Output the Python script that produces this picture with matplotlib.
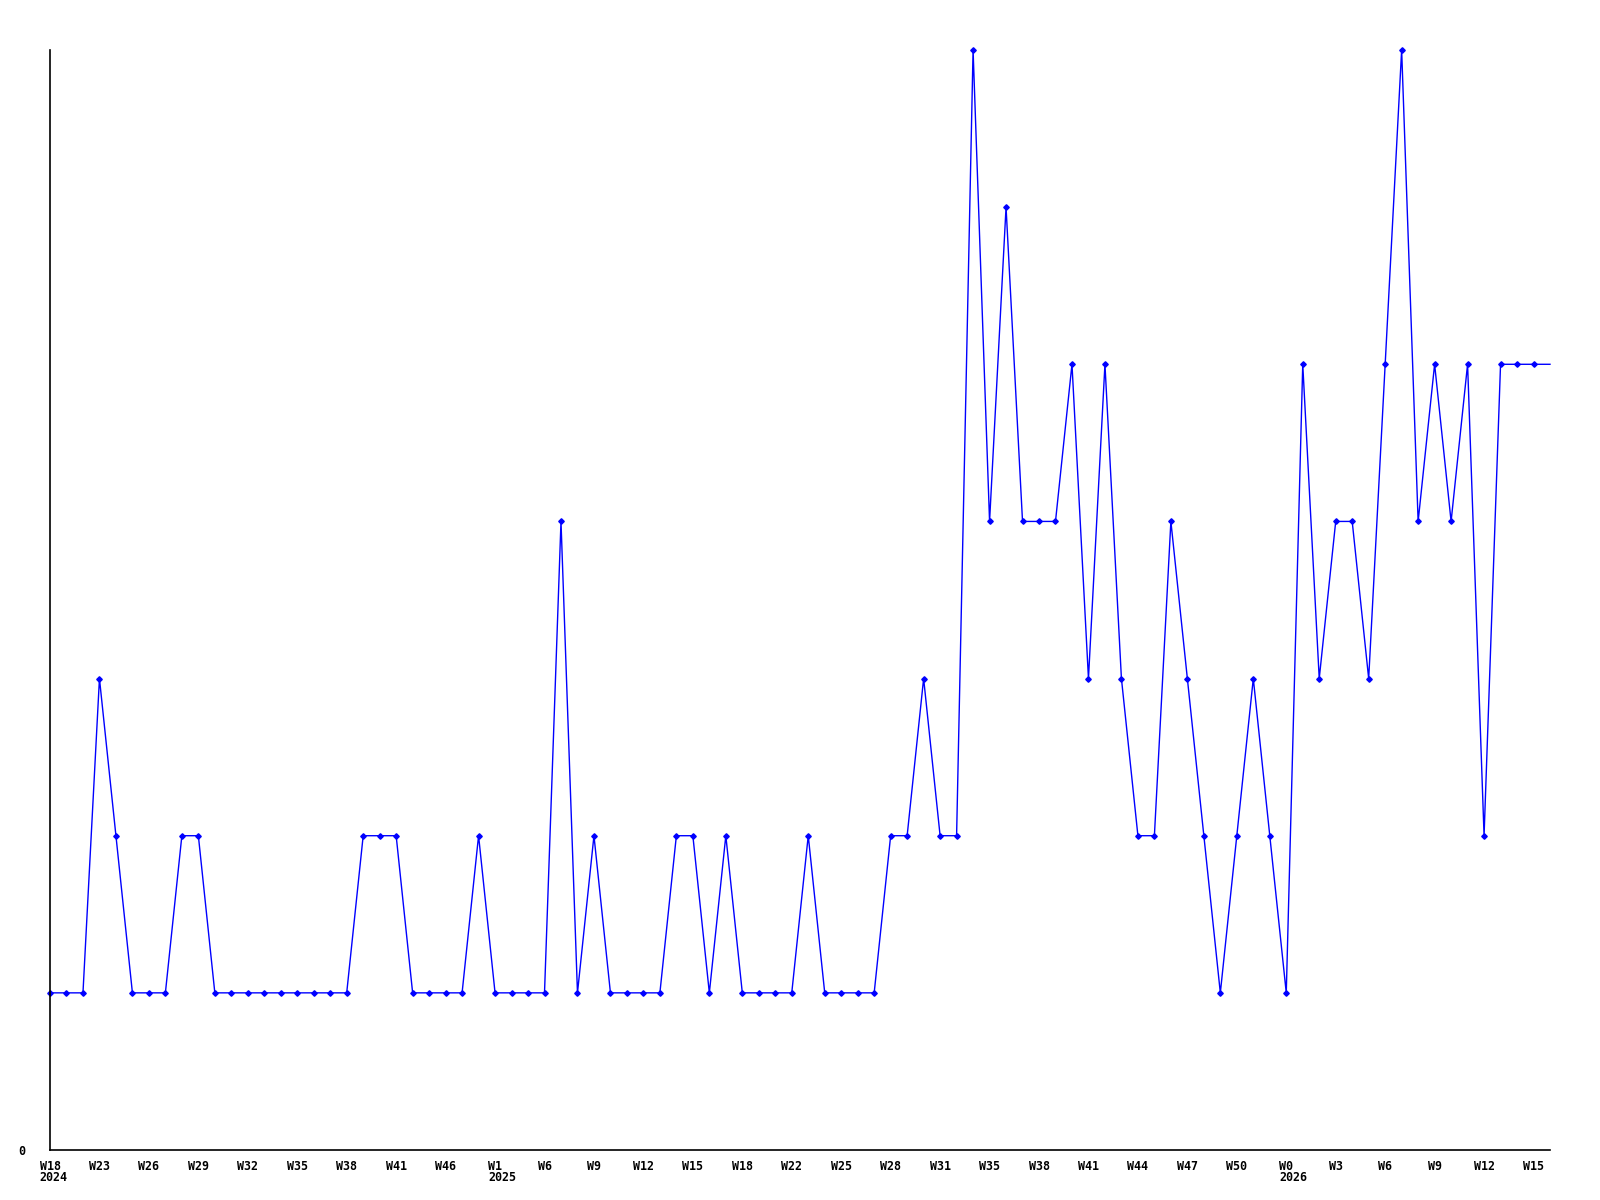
import matplotlib
matplotlib.use("Agg")
import matplotlib.pyplot as plt
import matplotlib.transforms as mtransforms

values = [1, 1, 1, 3, 2, 1, 1, 1, 2, 2,
          1, 1, 1, 1, 1, 1, 1, 1, 1, 2,
          2, 2, 1, 1, 1, 1, 2, 1, 1, 1,
          1, 4, 1, 2, 1, 1, 1, 1, 2, 2,
          1, 2, 1, 1, 1, 1, 2, 1, 1, 1,
          1, 2, 2, 3, 2, 2, 7, 4, 6, 4,
          4, 4, 5, 3, 5, 3, 2, 2, 4, 3,
          2, 1, 2, 3, 2, 1, 5, 3, 4, 4,
          3, 5, 7, 4, 5, 4, 5, 2, 5, 5,
          5, 5]
n_markers = 91

week_labels = ["W18", "W23", "W26", "W29", "W32", "W35", "W38", "W41", "W46", "W1",
               "W6", "W9", "W12", "W15", "W18", "W22", "W25", "W28", "W31", "W35",
               "W38", "W41", "W44", "W47", "W50", "W0", "W3", "W6", "W9", "W12", "W15"]
label_step = 3
year_labels = {0: "2024", 27: "2025", 75: "2026"}

fig = plt.figure(figsize=(16, 12), dpi=100)
ax = fig.add_axes([50/1600, 1 - 1150/1200, 1500/1600, 1100/1200])

x = list(range(len(values)))
ax.plot(x, values, color=(0, 0, 1), lw=1.0, marker='D', markersize=2.8,
        markevery=list(range(n_markers)), clip_on=False)

ax.set_xlim(0, len(values) - 1)
ax.set_ylim(0, 7)
for s in ['top', 'right']:
    ax.spines[s].set_visible(False)
for s in ['left', 'bottom']:
    ax.spines[s].set_linewidth(1.2)
    ax.spines[s].set_color('black')

fs = 8.4
font = dict(family='DejaVu Sans Mono', weight='bold', size=fs)
tick_pos = [i * label_step for i in range(len(week_labels))]
ax.set_xticks(tick_pos)
ax.set_xticklabels(week_labels, **font)
ax.tick_params(axis='x', length=0, pad=7)
ax.set_yticks([0])
ax.set_yticklabels(["0"], **font)
ax.tick_params(axis='y', length=0, pad=18)

char_w = 0.602 * fs  # points
for idx, yr in year_labels.items():
    wl = week_labels[idx // label_step]
    off = -len(wl) * char_w / 2
    tr = mtransforms.offset_copy(ax.get_xaxis_transform(), fig=fig, x=off, y=-20, units='points')
    ax.text(idx, 0, yr, transform=tr, ha='left', va='center', **font)

fig.savefig("out.png", dpi=100)
